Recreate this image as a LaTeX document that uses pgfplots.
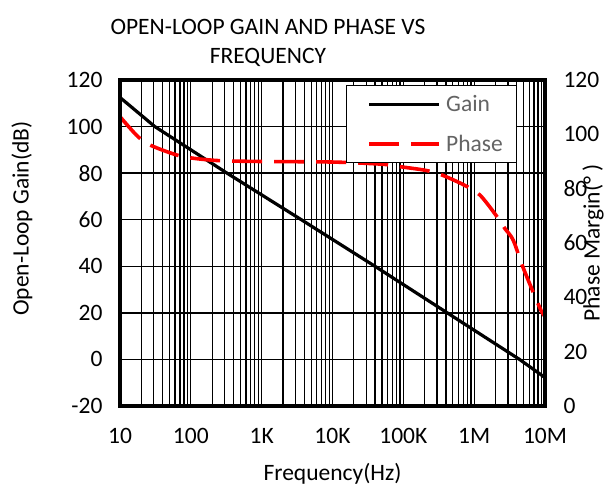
\documentclass[border=0pt]{standalone}
\usepackage{pgfplots}
\pgfplotsset{compat=1.18}
\usepackage{fontspec}
\setmainfont{Carlito}
\newcommand{\fs}{\fontsize{23.5}{29}\selectfont}
\definecolor{lgray}{RGB}{100,100,100}
\definecolor{pred}{RGB}{255,0,0}

\pgfplotstableread{
f g
10 112.5
31 100
324 80
3630 60
39800 40
417000 20
4370000 0
10000000 -7.8
}\gaintable

\pgfplotstableread{
f p
10 106.5
18 99.1
28 95.8
63 92.4
108 91.2
257 90.3
1000 90
10000 89.8
50000 89
89000 88.1
200000 86.8
330000 85.3
700000 81.5
1200000 77.7
2100000 69.7
2700000 65.4
3550000 61.1
4900000 51
8500000 36
10000000 33
}\phasetable

\begin{document}
\begin{tikzpicture}
\path[use as bounding box] (-120pt,-83pt) rectangle (485pt,406pt);
\begin{axis}[
  at={(0pt,0pt)}, anchor=south west,
  scale only axis, width=425pt, height=326pt,
  xmode=log, log basis x=10, xmin=10, xmax=10000000,
  ymin=-20, ymax=120,
  xtick={10,100,1000,10000,100000,1000000,10000000},
  xticklabels={10,100,1K,10K,100K,1M,10M},
  minor xtick={20,30,40,50,60,70,80,90,200,300,400,500,600,700,800,900,2000,3000,4000,5000,6000,7000,8000,9000,20000,30000,40000,50000,60000,70000,80000,90000,200000,300000,400000,500000,600000,700000,800000,900000,2000000,3000000,4000000,5000000,6000000,7000000,8000000,9000000},
  ytick={-20,0,20,40,60,80,100,120},
  xmajorgrids, xminorgrids, ymajorgrids,
  grid style={black, line width=1.3pt},
  major grid style={black, line width=1.3pt},
  minor grid style={black, line width=1.3pt},
  major tick length=0pt, minor tick length=0pt,
  axis line style={line width=4pt},
  tick label style={font=\fs, text=black},
  /pgf/number format/assume math mode=true,
  yticklabel style={xshift=-14pt},
  xticklabel style={yshift=-19pt},
  xlabel={Frequency(Hz)}, ylabel={Open-Loop Gain(dB)},
  label style={font=\fs},
  xlabel style={at={(axis description cs:0.5,-0.209)}, anchor=center},
  ylabel style={at={(axis description cs:-0.2306,0.575)}, anchor=center},
  title={OPEN-LOOP GAIN AND PHASE VS\\FREQUENCY},
  title style={font=\fs, align=center, at={(axis description cs:0.348,1.095)}, anchor=center},
]
\addplot[black, line width=3.2pt] table[x=f,y=g] {\gaintable};
\end{axis}
\begin{axis}[
  at={(0pt,0pt)}, anchor=south west,
  scale only axis, width=425pt, height=326pt,
  xmode=log, log basis x=10, xmin=10, xmax=10000000,
  ymin=0, ymax=120,
  xtick=\empty,
  ytick={0,20,40,60,80,100,120},
  yticklabel pos=right,
  major tick length=0pt, minor tick length=0pt,
  axis line style={line width=4pt},
  axis on top,
  tick label style={font=\fs, text=black},
  /pgf/number format/assume math mode=true,
  yticklabel style={xshift=15pt},
  ylabel={Phase Margin(°\ )},
  ylabel style={font=\fs, at={(axis description cs:1.113,0.5)}, anchor=center, rotate=0},
  legend style={at={(axis description cs:0.532,0.985)}, anchor=north west,
    draw=black, line width=1pt, fill=white, font=\fs,
    nodes={text=lgray, inner xsep=1pt},
    inner xsep=13pt, inner ysep=8pt, row sep=18pt,
    /tikz/every odd column/.append style={column sep=4pt}},
  legend image code/.code={\path (0pt,0pt); \draw[#1] (8pt,0pt) -- (78pt,0pt);},
  legend cell align=left,
]
\addlegendimage{black, line width=3.2pt}
\addlegendentry{Gain}
\addplot[pred, line width=3.6pt, dash pattern=on 30pt off 12pt, smooth] table[x=f,y=p] {\phasetable};
\addlegendentry{Phase}
\end{axis}
\end{tikzpicture}
\end{document}
